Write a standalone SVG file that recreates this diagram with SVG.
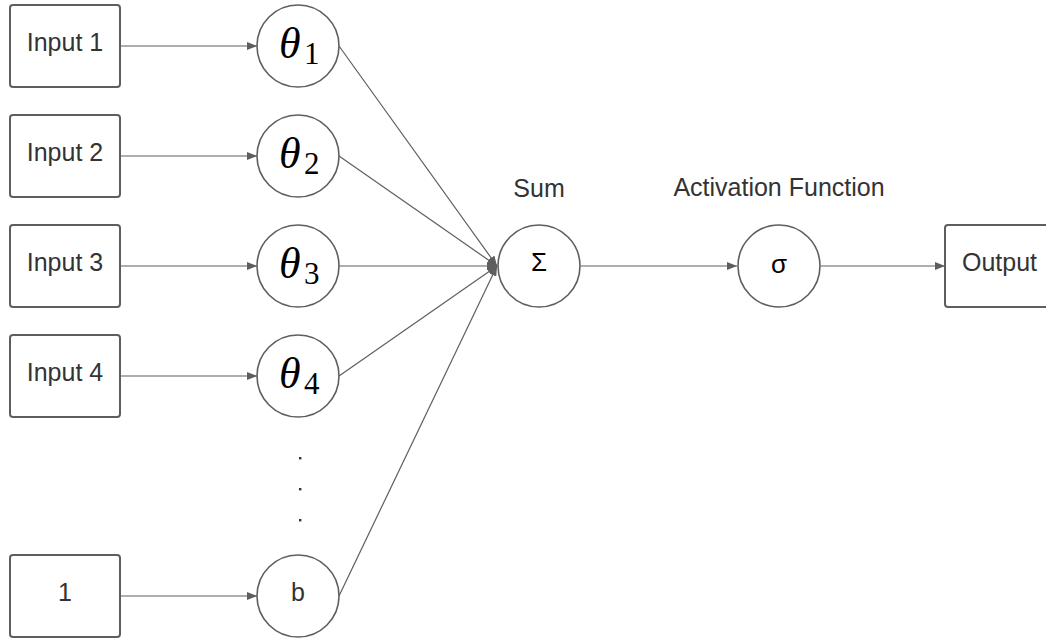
<svg xmlns="http://www.w3.org/2000/svg" width="1046" height="641" viewBox="0 0 1046 641">
  <style>
    .box { fill: #ffffff; stroke: #5e5e5e; stroke-width: 2; }
    .node { fill: #ffffff; stroke: #5e5e5e; stroke-width: 1.6; }
    .edge { fill: none; stroke: #5e5e5e; stroke-width: 1.2; }
    .lbl { font-family: "Liberation Sans", Arial, sans-serif; font-size: 25px; fill: #333333; text-anchor: middle; }
    .theta { font-family: "Liberation Serif", "Times New Roman", serif; font-size: 44px; font-style: italic; fill: #000000; }
    .sub { font-family: "Liberation Serif", "Times New Roman", serif; font-size: 31px; fill: #000000; }
    .sym { font-family: "Liberation Sans", Arial, sans-serif; font-size: 26px; fill: #000000; text-anchor: middle; }
  </style>
  <defs>
    <marker id="arrow" markerWidth="10" markerHeight="8" refX="10" refY="4" orient="auto" markerUnits="userSpaceOnUse">
      <path d="M0,0 L10,4 L0,8 Z" fill="#5e5e5e"/>
    </marker>
  </defs>
  <rect width="1046" height="641" fill="#ffffff"/>

  <!-- connectors -->
  <g id="connectors">
    <line class="edge" x1="120" y1="46" x2="257" y2="46" marker-end="url(#arrow)"/>
    <line class="edge" x1="120" y1="156" x2="257" y2="156" marker-end="url(#arrow)"/>
    <line class="edge" x1="120" y1="266" x2="257" y2="266" marker-end="url(#arrow)"/>
    <line class="edge" x1="120" y1="376" x2="257" y2="376" marker-end="url(#arrow)"/>
    <line class="edge" x1="120" y1="596" x2="257" y2="596" marker-end="url(#arrow)"/>
    <line class="edge" x1="339" y1="46" x2="497" y2="266" marker-end="url(#arrow)"/>
    <line class="edge" x1="339" y1="156" x2="497" y2="266" marker-end="url(#arrow)"/>
    <line class="edge" x1="339" y1="266" x2="497" y2="266" marker-end="url(#arrow)"/>
    <line class="edge" x1="339" y1="376" x2="497" y2="266" marker-end="url(#arrow)"/>
    <line class="edge" x1="339" y1="596" x2="497" y2="266" marker-end="url(#arrow)"/>
    <line class="edge" x1="581" y1="266" x2="737" y2="266" marker-end="url(#arrow)"/>
    <line class="edge" x1="821" y1="266" x2="945" y2="266" marker-end="url(#arrow)"/>
  </g>

  <!-- input boxes -->
  <g id="input1"><rect class="box" x="10" y="5" width="110" height="82" rx="3"/><text class="lbl" x="65" y="51">Input 1</text></g>
  <g id="input2"><rect class="box" x="10" y="115" width="110" height="82" rx="3"/><text class="lbl" x="65" y="161">Input 2</text></g>
  <g id="input3"><rect class="box" x="10" y="225" width="110" height="82" rx="3"/><text class="lbl" x="65" y="271">Input 3</text></g>
  <g id="input4"><rect class="box" x="10" y="335" width="110" height="82" rx="3"/><text class="lbl" x="65" y="381">Input 4</text></g>
  <g id="input-bias"><rect class="box" x="10" y="555" width="110" height="82" rx="3"/><text class="lbl" x="65" y="601">1</text></g>

  <!-- weight nodes -->
  <g id="w1"><circle class="node" cx="298" cy="46" r="41"/><text class="theta" x="279" y="58">θ</text><text class="sub" x="304" y="64">1</text></g>
  <g id="w2"><circle class="node" cx="298" cy="156" r="41"/><text class="theta" x="279" y="168">θ</text><text class="sub" x="304" y="174">2</text></g>
  <g id="w3"><circle class="node" cx="298" cy="266" r="41"/><text class="theta" x="279" y="278">θ</text><text class="sub" x="304" y="284">3</text></g>
  <g id="w4"><circle class="node" cx="298" cy="376" r="41"/><text class="theta" x="279" y="388">θ</text><text class="sub" x="304" y="394">4</text></g>
  <g id="bias"><circle class="node" cx="298" cy="596" r="41"/><text class="lbl" x="298" y="601">b</text></g>

  <!-- ellipsis -->
  <g id="ellipsis" fill="#333333">
    <rect x="299" y="457" width="2.4" height="2.4"/>
    <rect x="299" y="488" width="2.4" height="2.4"/>
    <rect x="299" y="519" width="2.4" height="2.4"/>
  </g>

  <!-- sum -->
  <g id="sum">
    <text class="lbl" x="539" y="197">Sum</text>
    <circle class="node" cx="539" cy="266" r="41"/>
    <text class="sym" x="539" y="271">Σ</text>
  </g>

  <!-- activation -->
  <g id="activation">
    <text class="lbl" x="779" y="196">Activation Function</text>
    <circle class="node" cx="779" cy="266" r="41"/>
    <text class="sym" x="779" y="273">σ</text>
  </g>

  <!-- output -->
  <g id="output"><rect class="box" x="945" y="225" width="110" height="82" rx="3"/><text class="lbl" x="999.5" y="271">Output</text></g>
</svg>
